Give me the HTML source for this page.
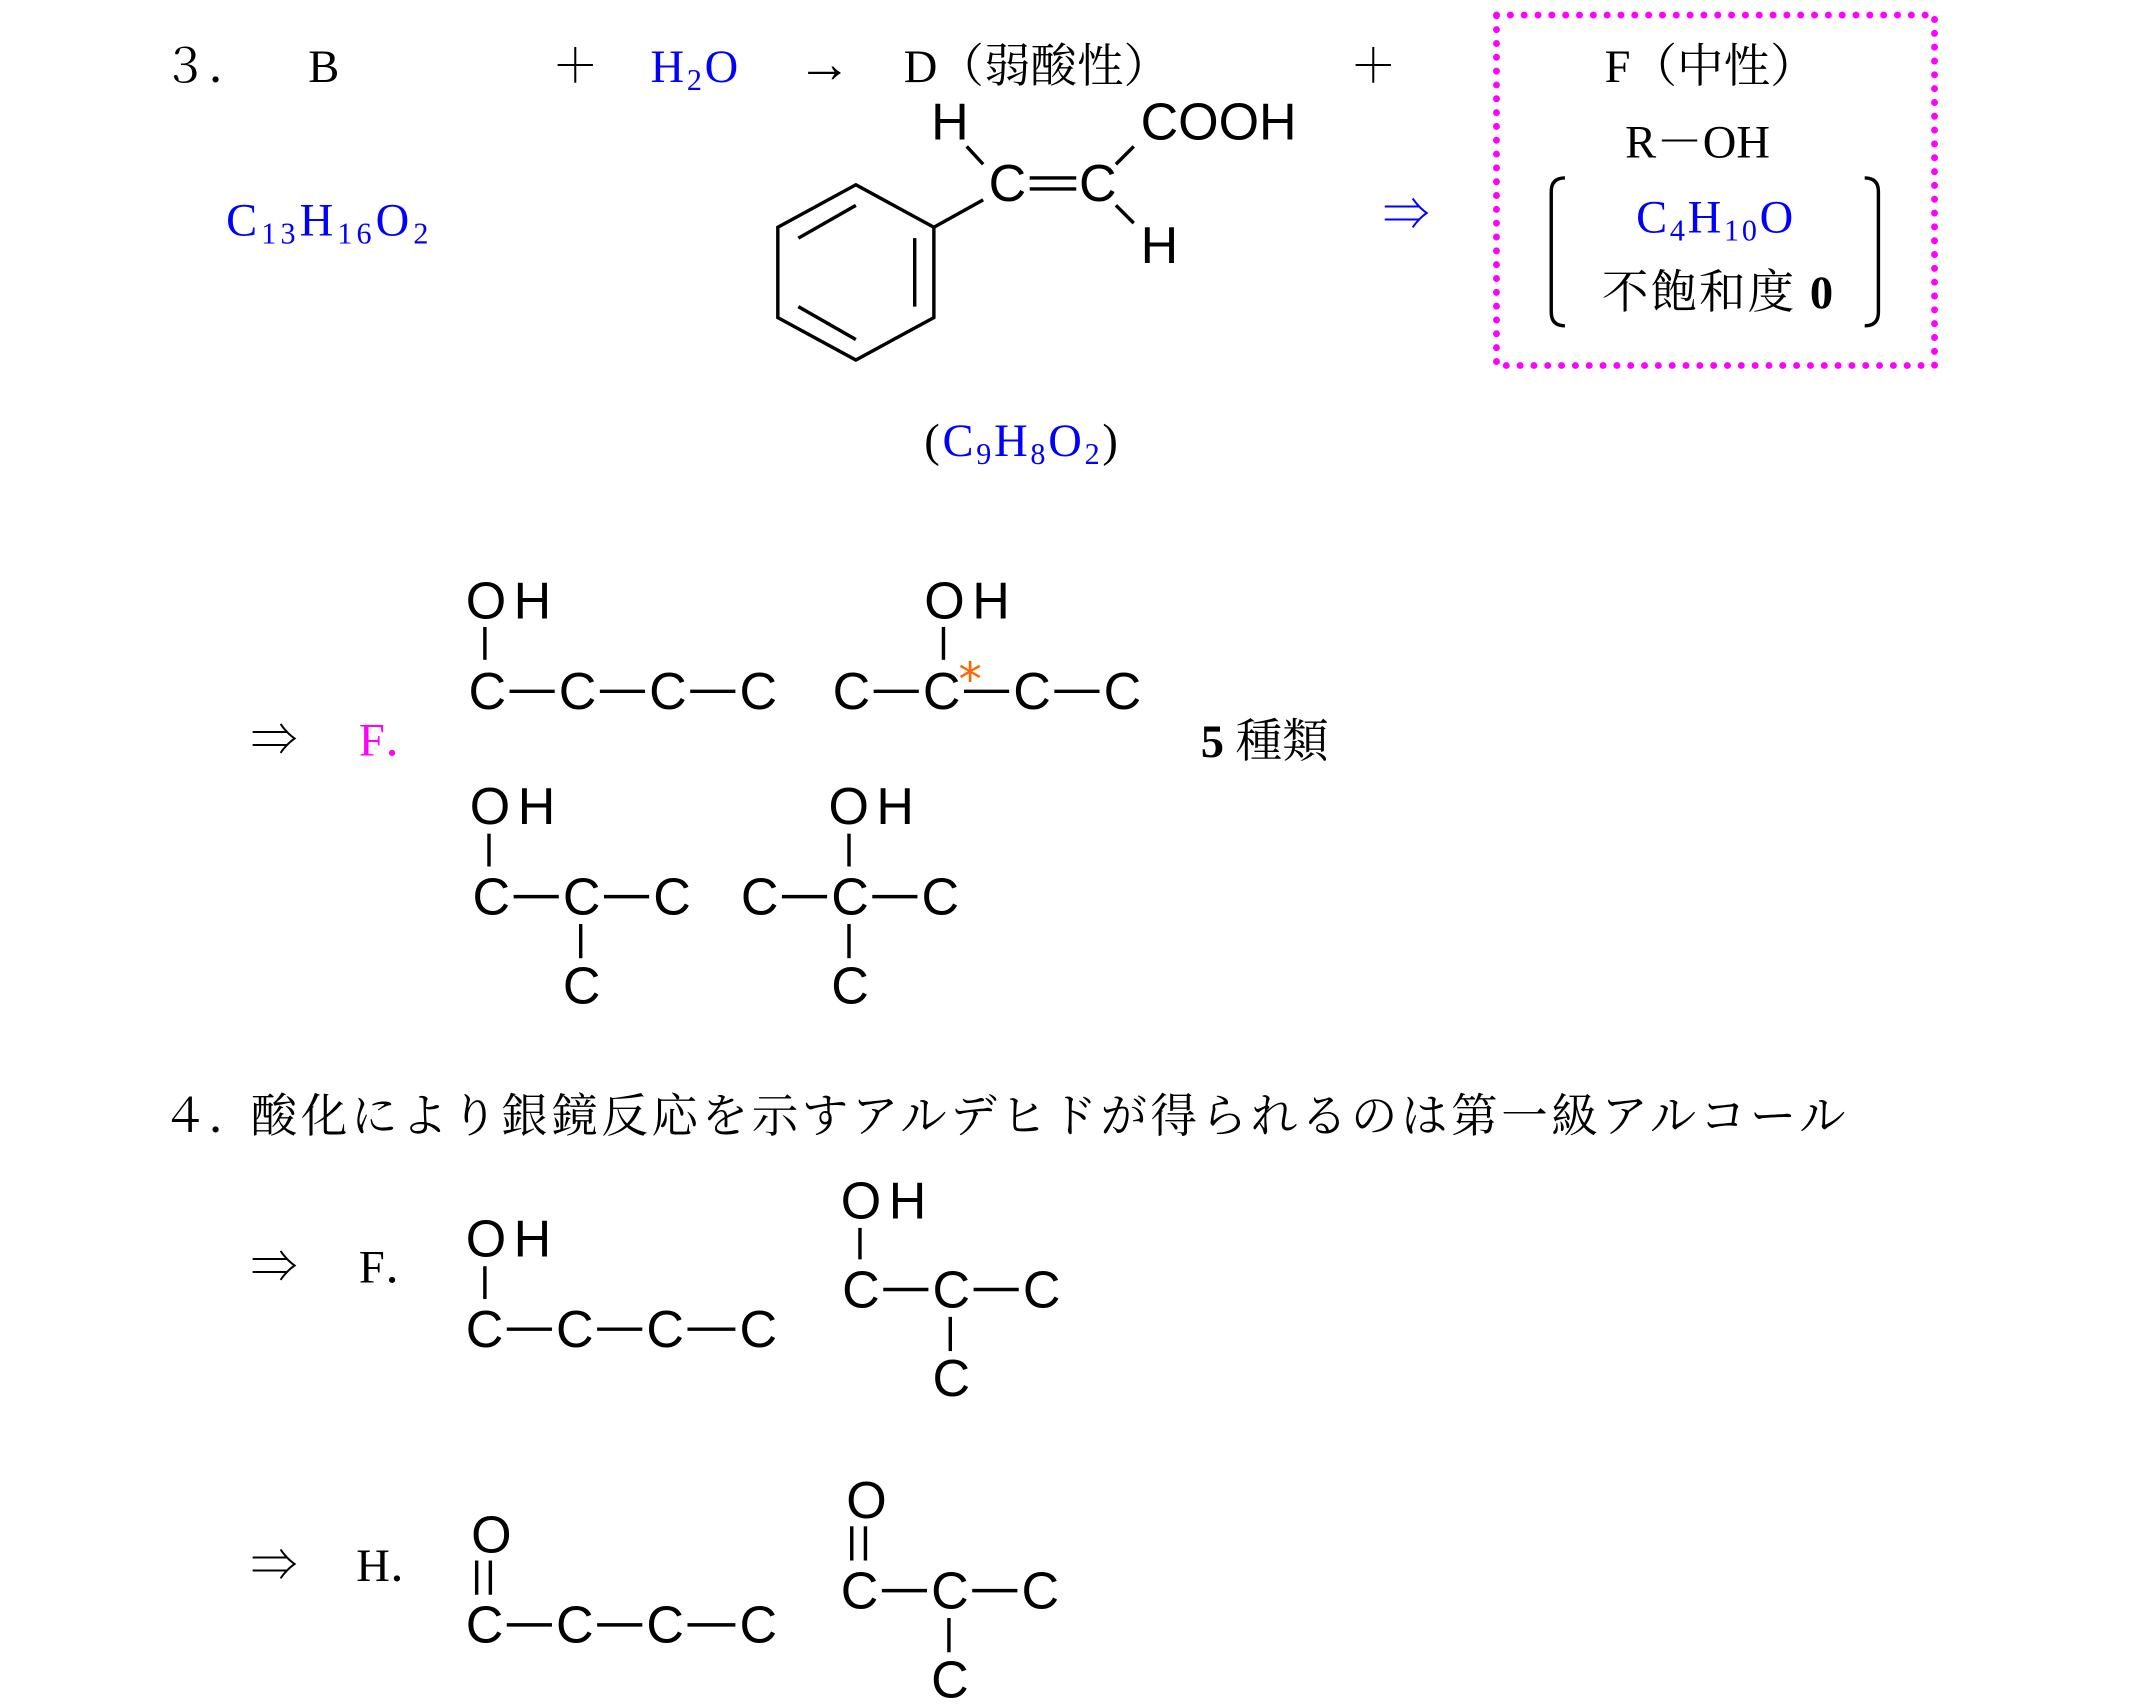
<!DOCTYPE html>
<html><head><meta charset="utf-8"><style>
html,body{margin:0;padding:0;background:#fff;}
svg{display:block}
.s{font-family:"Liberation Serif","Noto Serif CJK SC","Noto Sans CJK JP",serif;font-size:34px;fill:#000}
.a{font-family:"Liberation Sans","DejaVu Sans",sans-serif;font-size:38px;fill:#000}
.b{fill:#0000ff}
.m{fill:#ff00ff}
.f{letter-spacing:2px}
.sub{font-size:22px;baseline-shift:-6px}
line,polyline,path,polygon{stroke:#000;stroke-width:2.5;fill:none}
</style></head><body>
<svg width="2147" height="1707" viewBox="0 0 1568 1247" xmlns="http://www.w3.org/2000/svg">
<text class="s" x="118" y="60">３．</text>
<text class="s" x="225" y="60">B</text>
<text class="s" x="403" y="60">＋</text>
<text class="s b f" x="475" y="60">H<tspan class="sub">2</tspan>O</text>
<text class="s" x="582" y="60" style="font-size:40px">→</text>
<text class="s" x="660" y="60">D（弱酸性）</text>
<text class="s" x="986" y="60">＋</text>
<text class="s" x="1172" y="60">F（中性）</text>
<rect x="1093" y="11" width="320" height="256" style="fill:none;stroke:#ff00ff;stroke-width:5;stroke-dasharray:0.1 10;stroke-linecap:round"/>
<text class="s" x="1187" y="115">R－OH</text>
<path d="M1143 130 Q1133 130 1133 140 L1133 228 Q1133 238 1143 238"/>
<path d="M1362 130 Q1372 130 1372 140 L1372 228 Q1372 238 1362 238"/>
<text class="s b f" x="1195" y="170">C<tspan class="sub">4</tspan>H<tspan class="sub">10</tspan>O</text>
<text class="s" x="1170" y="225" style="letter-spacing:1.5px">不飽和度 <tspan font-weight="bold">0</tspan></text>
<text class="s b f" x="165" y="172" style="letter-spacing:3px">C<tspan class="sub">13</tspan>H<tspan class="sub">16</tspan>O<tspan class="sub">2</tspan></text>
<text class="s b" x="1010" y="168">⇒</text>
<polygon points="625,135 682,166 682,232 625,263 568,232 568,166"/>
<line x1="583" y1="174" x2="625" y2="150"/>
<line x1="583" y1="224" x2="625" y2="248"/>
<line x1="668" y1="174" x2="668" y2="224"/>
<line x1="682" y1="166" x2="718" y2="146"/>
<text class="a" x="722" y="147">C</text>
<line x1="752" y1="130" x2="786" y2="130"/><line x1="752" y1="138" x2="786" y2="138"/>
<text class="a" x="788" y="147">C</text>
<text class="a" x="680" y="102">H</text>
<line x1="706" y1="107" x2="718" y2="120"/>
<text class="a" x="833" y="102">COOH</text>
<line x1="815" y1="120" x2="828" y2="107"/>
<text class="a" x="833" y="192">H</text>
<line x1="815" y1="150" x2="828" y2="163"/>
<text class="s b f" x="675" y="333"><tspan fill="#000">(</tspan>C<tspan class="sub">9</tspan>H<tspan class="sub">8</tspan>O<tspan class="sub">2</tspan><tspan fill="#000">)</tspan></text>
<text class="s" x="183" y="552">⇒</text>
<text class="s m" x="262" y="552">F．</text>
<text class="a" x="340" y="452">O</text><text class="a" x="375" y="452">H</text>
<line x1="354" y1="458" x2="354" y2="482"/>
<text class="a" x="342" y="518">C</text><text class="a" x="408" y="518">C</text><text class="a" x="474" y="518">C</text><text class="a" x="540" y="518">C</text>
<line x1="372" y1="505" x2="405" y2="505"/><line x1="438" y1="505" x2="471" y2="505"/><line x1="504" y1="505" x2="537" y2="505"/>
<text class="a" x="675" y="452">O</text><text class="a" x="710" y="452">H</text>
<line x1="689" y1="458" x2="689" y2="482"/>
<text class="a" x="608" y="518">C</text><text class="a" x="674" y="518">C</text><text class="a" x="740" y="518">C</text><text class="a" x="806" y="518">C</text>
<line x1="638" y1="505" x2="671" y2="505"/><line x1="704" y1="505" x2="737" y2="505"/><line x1="770" y1="505" x2="803" y2="505"/>
<text x="700" y="508" style="font-family:'DejaVu Sans',sans-serif;font-size:34px;fill:#ff6600">*</text>
<text class="s" x="877" y="553"><tspan font-weight="bold">5</tspan> 種類</text>
<text class="a" x="343" y="602">O</text><text class="a" x="378" y="602">H</text>
<line x1="357" y1="609" x2="357" y2="633"/>
<text class="a" x="345" y="668">C</text><text class="a" x="411" y="668">C</text><text class="a" x="477" y="668">C</text>
<line x1="375" y1="655" x2="408" y2="655"/><line x1="441" y1="655" x2="474" y2="655"/>
<line x1="424" y1="675" x2="424" y2="700"/>
<text class="a" x="411" y="733">C</text>
<text class="a" x="605" y="602">O</text><text class="a" x="640" y="602">H</text>
<line x1="620" y1="609" x2="620" y2="633"/>
<text class="a" x="541" y="668">C</text><text class="a" x="607" y="668">C</text><text class="a" x="673" y="668">C</text>
<line x1="571" y1="655" x2="604" y2="655"/><line x1="637" y1="655" x2="670" y2="655"/>
<line x1="620" y1="675" x2="620" y2="700"/>
<text class="a" x="607" y="733">C</text>
<text class="s" x="118" y="827">４．</text>
<text class="s" x="183" y="827" style="letter-spacing:2.6px">酸化により銀鏡反応を示すアルデヒドが得られるのは第一級アルコール</text>
<text class="s" x="183" y="937">⇒</text>
<text class="s" x="262" y="937">F．</text>
<text class="a" x="340" y="918">O</text><text class="a" x="375" y="918">H</text>
<line x1="354" y1="925" x2="354" y2="949"/>
<text class="a" x="340" y="984">C</text><text class="a" x="406" y="984">C</text><text class="a" x="472" y="984">C</text><text class="a" x="540" y="984">C</text>
<line x1="370" y1="971" x2="403" y2="971"/><line x1="436" y1="971" x2="469" y2="971"/><line x1="502" y1="971" x2="537" y2="971"/>
<text class="a" x="614" y="890">O</text><text class="a" x="649" y="890">H</text>
<line x1="628" y1="897" x2="628" y2="920"/>
<text class="a" x="615" y="955">C</text><text class="a" x="681" y="955">C</text><text class="a" x="747" y="955">C</text>
<line x1="645" y1="942" x2="678" y2="942"/><line x1="711" y1="942" x2="744" y2="942"/>
<line x1="694" y1="962" x2="694" y2="987"/>
<text class="a" x="681" y="1020">C</text>
<text class="s" x="183" y="1155">⇒</text>
<text class="s" x="260" y="1155">H．</text>
<text class="a" x="344" y="1134">O</text>
<line x1="348" y1="1140" x2="348" y2="1165"/><line x1="358" y1="1140" x2="358" y2="1165"/>
<text class="a" x="340" y="1200">C</text><text class="a" x="406" y="1200">C</text><text class="a" x="472" y="1200">C</text><text class="a" x="540" y="1200">C</text>
<line x1="370" y1="1187" x2="403" y2="1187"/><line x1="436" y1="1187" x2="469" y2="1187"/><line x1="502" y1="1187" x2="537" y2="1187"/>
<text class="a" x="618" y="1109">O</text>
<line x1="622" y1="1115" x2="622" y2="1140"/><line x1="632" y1="1115" x2="632" y2="1140"/>
<text class="a" x="614" y="1175">C</text><text class="a" x="680" y="1175">C</text><text class="a" x="746" y="1175">C</text>
<line x1="644" y1="1162" x2="677" y2="1162"/><line x1="710" y1="1162" x2="743" y2="1162"/>
<line x1="693" y1="1182" x2="693" y2="1207"/>
<text class="a" x="680" y="1240">C</text>
</svg>
</body></html>
